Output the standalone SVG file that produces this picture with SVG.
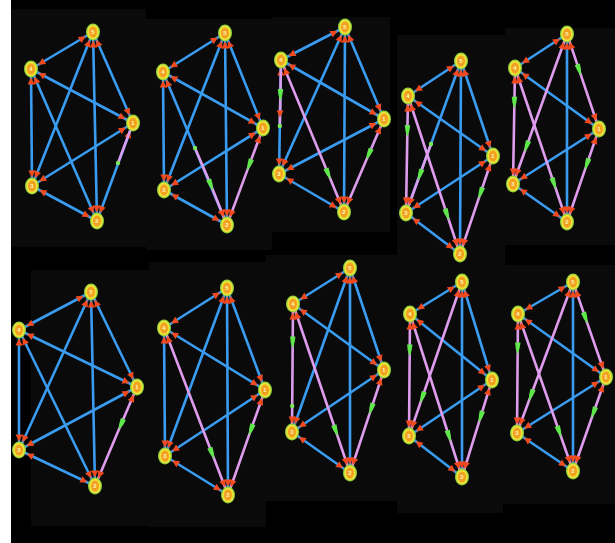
<svg xmlns="http://www.w3.org/2000/svg" xmlns:xlink="http://www.w3.org/1999/xlink" width="615" height="543" viewBox="0 0 615 543">
<style>
.bg{fill:#0a0a0a}
.b{stroke:#3a9cf0;stroke-width:2.6;fill:none;marker-start:url(#ar);marker-end:url(#ar)}
.p{stroke:#de9cec;stroke-width:2.6;fill:none;marker-start:url(#ar);marker-mid:url(#gm);marker-end:url(#ar)}
.po{stroke:#de9cec;stroke-width:2.6;fill:none}
.pm{stroke:#de9cec;stroke-width:2.6;fill:none;marker-mid:url(#gm);marker-end:url(#ar)}
.gd{fill:#7be85a}
.lb{font-family:"Liberation Sans",Arial,sans-serif;font-size:6px;font-weight:bold;fill:#fff6c0;text-anchor:middle;dominant-baseline:central}
</style>
<defs>
<marker id="ar" markerUnits="userSpaceOnUse" markerWidth="7" markerHeight="7" refX="15.5" refY="3.5" orient="auto-start-reverse" overflow="visible"><path d="M0,0 L7,3.5 L0,7 z" fill="#f24a1e"/></marker>
<marker id="gm" markerUnits="userSpaceOnUse" markerWidth="12" markerHeight="6" refX="6" refY="3" orient="auto" overflow="visible"><path d="M0,0.3 Q6,0.5 12,3 Q6,5.5 0,5.7 z" fill="#5ee84a"/></marker>
<g id="nd"><ellipse rx="7" ry="8.5" fill="#8fd13a"/><ellipse rx="5.8" ry="7.3" fill="#ece23c"/><ellipse rx="4" ry="5.6" fill="#f2a11f"/></g>
</defs>
<rect x="0" y="0" width="615" height="543" fill="#ffffff"/>
<rect x="11" y="0" width="604" height="543" fill="#000000"/>
<g id="panels">
<rect class="bg" x="11" y="9" width="135" height="238"/>
<rect class="bg" x="146" y="19" width="126" height="231"/>
<rect class="bg" x="272" y="17" width="118" height="215"/>
<rect class="bg" x="397" y="35" width="108" height="235"/>
<rect class="bg" x="505" y="28" width="110" height="217"/>
<rect class="bg" x="31" y="270" width="118" height="256"/>
<rect class="bg" x="149" y="262" width="117" height="265"/>
<rect class="bg" x="266" y="255" width="131" height="246"/>
<rect class="bg" x="397" y="262" width="106" height="251"/>
<rect class="bg" x="503" y="265" width="112" height="239"/>
</g>

<!-- Panel 1 -->
<g id="panel1">
<g id="p1-connectors">
<line class="b" x1="93" y1="32" x2="31" y2="69"/>
<line class="b" x1="93" y1="32" x2="133" y2="123"/>
<line class="b" x1="93" y1="32" x2="32" y2="186"/>
<line class="b" x1="93" y1="32" x2="97" y2="221"/>
<line class="b" x1="31" y1="69" x2="133" y2="123"/>
<line class="b" x1="31" y1="69" x2="32" y2="186"/>
<line class="b" x1="31" y1="69" x2="97" y2="221"/>
<line class="b" x1="133" y1="123" x2="32" y2="186"/>
<line class="b" x1="133" y1="123" x2="97" y2="221"/>
<line class="b" x1="32" y1="186" x2="97" y2="221"/>
<line class="po" x1="133" y1="123" x2="118" y2="163"/>
<circle class="gd" cx="118" cy="163" r="2.2"/>
</g>
<g id="p1-n5"><use xlink:href="#nd" transform="translate(93,32)"/><text class="lb" x="93" y="32">5</text></g>
<g id="p1-n4"><use xlink:href="#nd" transform="translate(31,69)"/><text class="lb" x="31" y="69">4</text></g>
<g id="p1-n1"><use xlink:href="#nd" transform="translate(133,123)"/><text class="lb" x="133" y="123">1</text></g>
<g id="p1-n3"><use xlink:href="#nd" transform="translate(32,186)"/><text class="lb" x="32" y="186">3</text></g>
<g id="p1-n2"><use xlink:href="#nd" transform="translate(97,221)"/><text class="lb" x="97" y="221">2</text></g>
</g>

<!-- Panel 2 -->
<g id="panel2">
<g id="p2-connectors">
<line class="b" x1="225" y1="33" x2="163" y2="72"/>
<line class="b" x1="225" y1="33" x2="263" y2="128"/>
<line class="b" x1="225" y1="33" x2="164" y2="190"/>
<line class="b" x1="225" y1="33" x2="227" y2="225"/>
<line class="b" x1="163" y1="72" x2="263" y2="128"/>
<line class="b" x1="163" y1="72" x2="164" y2="190"/>
<line class="b" x1="163" y1="72" x2="227" y2="225"/>
<line class="b" x1="263" y1="128" x2="164" y2="190"/>
<line class="b" x1="164" y1="190" x2="227" y2="225"/>
<polyline class="p" points="263,128 249.3,164.9 227,225"/>
<polyline class="pm" points="195,148 210.9,185 227,225"/>
<circle class="gd" cx="195" cy="148" r="2.2"/>
</g>
<g id="p2-n5"><use xlink:href="#nd" transform="translate(225,33)"/><text class="lb" x="225" y="33">5</text></g>
<g id="p2-n4"><use xlink:href="#nd" transform="translate(163,72)"/><text class="lb" x="163" y="72">4</text></g>
<g id="p2-n1"><use xlink:href="#nd" transform="translate(263,128)"/><text class="lb" x="263" y="128">1</text></g>
<g id="p2-n3"><use xlink:href="#nd" transform="translate(164,190)"/><text class="lb" x="164" y="190">3</text></g>
<g id="p2-n2"><use xlink:href="#nd" transform="translate(227,225)"/><text class="lb" x="227" y="225">2</text></g>
</g>

<!-- Panel 3 -->
<g id="panel3">
<g id="p3-connectors">
<line class="b" x1="345" y1="27" x2="281" y2="60"/>
<line class="b" x1="345" y1="27" x2="384" y2="119"/>
<line class="b" x1="345" y1="27" x2="279" y2="174"/>
<line class="b" x1="345" y1="27" x2="344" y2="212"/>
<line class="b" x1="281" y1="60" x2="384" y2="119"/>
<line class="b" x1="281" y1="60" x2="279" y2="174"/>
<line class="b" x1="384" y1="119" x2="279" y2="174"/>
<line class="b" x1="279" y1="174" x2="344" y2="212"/>
<polyline class="pm" points="281,60 280.4,95 279.8,126"/>
<circle class="gd" cx="279.8" cy="126" r="2.2"/>
<polyline class="p" points="281,60 328.3,174 344,212"/>
<polyline class="p" points="384,119 368.8,154.3 344,212"/>
</g>
<g id="p3-n5"><use xlink:href="#nd" transform="translate(345,27)"/><text class="lb" x="345" y="27">5</text></g>
<g id="p3-n4"><use xlink:href="#nd" transform="translate(281,60)"/><text class="lb" x="281" y="60">4</text></g>
<g id="p3-n1"><use xlink:href="#nd" transform="translate(384,119)"/><text class="lb" x="384" y="119">1</text></g>
<g id="p3-n3"><use xlink:href="#nd" transform="translate(279,174)"/><text class="lb" x="279" y="174">3</text></g>
<g id="p3-n2"><use xlink:href="#nd" transform="translate(344,212)"/><text class="lb" x="344" y="212">2</text></g>
</g>

<!-- Panel 4 -->
<g id="panel4">
<g id="p4-connectors">
<line class="b" x1="461" y1="61" x2="408" y2="96"/>
<line class="b" x1="461" y1="61" x2="493" y2="156"/>
<line class="b" x1="461" y1="61" x2="406" y2="213"/>
<line class="b" x1="461" y1="61" x2="460" y2="254"/>
<line class="b" x1="408" y1="96" x2="493" y2="156"/>
<line class="b" x1="493" y1="156" x2="406" y2="213"/>
<line class="b" x1="406" y1="213" x2="460" y2="254"/>
<polyline class="p" points="408,96 407.4,131.1 406,213"/>
<polyline class="pm" points="431,144 419.8,175 406,213"/>
<circle class="gd" cx="431" cy="144" r="2.2"/>
<polyline class="p" points="408,96 447,214.5 460,254"/>
<polyline class="p" points="493,156 480.5,193.2 460,254"/>
</g>
<g id="p4-n5"><use xlink:href="#nd" transform="translate(461,61)"/><text class="lb" x="461" y="61">5</text></g>
<g id="p4-n4"><use xlink:href="#nd" transform="translate(408,96)"/><text class="lb" x="408" y="96">4</text></g>
<g id="p4-n1"><use xlink:href="#nd" transform="translate(493,156)"/><text class="lb" x="493" y="156">1</text></g>
<g id="p4-n3"><use xlink:href="#nd" transform="translate(406,213)"/><text class="lb" x="406" y="213">3</text></g>
<g id="p4-n2"><use xlink:href="#nd" transform="translate(460,254)"/><text class="lb" x="460" y="254">2</text></g>
</g>

<!-- Panel 5 -->
<g id="panel5">
<g id="p5-connectors">
<line class="b" x1="567" y1="34" x2="515" y2="68"/>
<line class="b" x1="567" y1="34" x2="567" y2="222"/>
<line class="b" x1="515" y1="68" x2="599" y2="129"/>
<line class="b" x1="599" y1="129" x2="513" y2="184"/>
<line class="b" x1="513" y1="184" x2="567" y2="222"/>
<polyline class="p" points="567,34 579.2,70.1 599,129"/>
<polyline class="p" points="515,68 514.4,102.8 513,184"/>
<polyline class="p" points="567,34 526.5,146.5 513,184"/>
<polyline class="p" points="515,68 554,183.5 567,222"/>
<polyline class="p" points="599,129 586.8,164.3 567,222"/>
</g>
<g id="p5-n5"><use xlink:href="#nd" transform="translate(567,34)"/><text class="lb" x="567" y="34">5</text></g>
<g id="p5-n4"><use xlink:href="#nd" transform="translate(515,68)"/><text class="lb" x="515" y="68">4</text></g>
<g id="p5-n1"><use xlink:href="#nd" transform="translate(599,129)"/><text class="lb" x="599" y="129">1</text></g>
<g id="p5-n3"><use xlink:href="#nd" transform="translate(513,184)"/><text class="lb" x="513" y="184">3</text></g>
<g id="p5-n2"><use xlink:href="#nd" transform="translate(567,222)"/><text class="lb" x="567" y="222">2</text></g>
</g>

<!-- Panel 6 -->
<g id="panel6">
<g id="p6-connectors">
<line class="b" x1="91" y1="292" x2="19" y2="330"/>
<line class="b" x1="91" y1="292" x2="137" y2="387"/>
<line class="b" x1="91" y1="292" x2="19" y2="450"/>
<line class="b" x1="91" y1="292" x2="95" y2="486"/>
<line class="b" x1="19" y1="330" x2="137" y2="387"/>
<line class="b" x1="19" y1="330" x2="19" y2="450"/>
<line class="b" x1="19" y1="330" x2="95" y2="486"/>
<line class="b" x1="137" y1="387" x2="19" y2="450"/>
<line class="b" x1="19" y1="450" x2="95" y2="486"/>
<polyline class="p" points="137,387 121,424.6 95,486"/>
</g>
<g id="p6-n5"><use xlink:href="#nd" transform="translate(91,292)"/><text class="lb" x="91" y="292">5</text></g>
<g id="p6-n4"><use xlink:href="#nd" transform="translate(19,330)"/><text class="lb" x="19" y="330">4</text></g>
<g id="p6-n1"><use xlink:href="#nd" transform="translate(137,387)"/><text class="lb" x="137" y="387">1</text></g>
<g id="p6-n3"><use xlink:href="#nd" transform="translate(19,450)"/><text class="lb" x="19" y="450">3</text></g>
<g id="p6-n2"><use xlink:href="#nd" transform="translate(95,486)"/><text class="lb" x="95" y="486">2</text></g>
</g>

<!-- Panel 7 -->
<g id="panel7">
<g id="p7-connectors">
<line class="b" x1="227" y1="288" x2="164" y2="328"/>
<line class="b" x1="227" y1="288" x2="265" y2="390"/>
<line class="b" x1="227" y1="288" x2="165" y2="456"/>
<line class="b" x1="227" y1="288" x2="228" y2="495"/>
<line class="b" x1="164" y1="328" x2="265" y2="390"/>
<line class="b" x1="164" y1="328" x2="165" y2="456"/>
<line class="b" x1="265" y1="390" x2="165" y2="456"/>
<line class="b" x1="165" y1="456" x2="228" y2="495"/>
<polyline class="p" points="164,328 212,453.3 228,495"/>
<polyline class="p" points="265,390 250.9,429.9 228,495"/>
</g>
<g id="p7-n5"><use xlink:href="#nd" transform="translate(227,288)"/><text class="lb" x="227" y="288">5</text></g>
<g id="p7-n4"><use xlink:href="#nd" transform="translate(164,328)"/><text class="lb" x="164" y="328">4</text></g>
<g id="p7-n1"><use xlink:href="#nd" transform="translate(265,390)"/><text class="lb" x="265" y="390">1</text></g>
<g id="p7-n3"><use xlink:href="#nd" transform="translate(165,456)"/><text class="lb" x="165" y="456">3</text></g>
<g id="p7-n2"><use xlink:href="#nd" transform="translate(228,495)"/><text class="lb" x="228" y="495">2</text></g>
</g>

<!-- Panel 8 -->
<g id="panel8">
<g id="p8-connectors">
<line class="b" x1="350" y1="268" x2="293" y2="304"/>
<line class="b" x1="350" y1="268" x2="384" y2="370"/>
<line class="b" x1="350" y1="268" x2="292" y2="432"/>
<line class="b" x1="350" y1="268" x2="350" y2="473"/>
<line class="b" x1="293" y1="304" x2="384" y2="370"/>
<line class="b" x1="384" y1="370" x2="292" y2="432"/>
<line class="b" x1="292" y1="432" x2="350" y2="473"/>
<polyline class="p" points="293,304 292.7,342.4 292,432"/>
<circle class="gd" cx="292.2" cy="406" r="2.2"/>
<polyline class="p" points="293,304 335.75,430.75 350,473"/>
<polyline class="p" points="384,370 371.1,409.1 350,473"/>
</g>
<g id="p8-n5"><use xlink:href="#nd" transform="translate(350,268)"/><text class="lb" x="350" y="268">5</text></g>
<g id="p8-n4"><use xlink:href="#nd" transform="translate(293,304)"/><text class="lb" x="293" y="304">4</text></g>
<g id="p8-n1"><use xlink:href="#nd" transform="translate(384,370)"/><text class="lb" x="384" y="370">1</text></g>
<g id="p8-n3"><use xlink:href="#nd" transform="translate(292,432)"/><text class="lb" x="292" y="432">3</text></g>
<g id="p8-n2"><use xlink:href="#nd" transform="translate(350,473)"/><text class="lb" x="350" y="473">2</text></g>
</g>

<!-- Panel 9 -->
<g id="panel9">
<g id="p9-connectors">
<line class="b" x1="462" y1="282" x2="410" y2="314"/>
<line class="b" x1="462" y1="282" x2="492" y2="380"/>
<line class="b" x1="462" y1="282" x2="462" y2="477"/>
<line class="b" x1="410" y1="314" x2="492" y2="380"/>
<line class="b" x1="492" y1="380" x2="409" y2="436"/>
<line class="b" x1="409" y1="436" x2="462" y2="477"/>
<polyline class="p" points="410,314 409.7,350.6 409,436"/>
<polyline class="p" points="462,282 422.25,397.5 409,436"/>
<polyline class="p" points="410,314 449,436.25 462,477"/>
<polyline class="p" points="492,380 480.6,416.9 462,477"/>
</g>
<g id="p9-n5"><use xlink:href="#nd" transform="translate(462,282)"/><text class="lb" x="462" y="282">5</text></g>
<g id="p9-n4"><use xlink:href="#nd" transform="translate(410,314)"/><text class="lb" x="410" y="314">4</text></g>
<g id="p9-n1"><use xlink:href="#nd" transform="translate(492,380)"/><text class="lb" x="492" y="380">1</text></g>
<g id="p9-n3"><use xlink:href="#nd" transform="translate(409,436)"/><text class="lb" x="409" y="436">3</text></g>
<g id="p9-n2"><use xlink:href="#nd" transform="translate(462,477)"/><text class="lb" x="462" y="477">2</text></g>
</g>

<!-- Panel 10 -->
<g id="panel10">
<g id="p10-connectors">
<line class="b" x1="573" y1="282" x2="518" y2="314"/>
<line class="b" x1="573" y1="282" x2="573" y2="471"/>
<line class="b" x1="518" y1="314" x2="606" y2="377"/>
<line class="b" x1="606" y1="377" x2="517" y2="433"/>
<line class="b" x1="517" y1="433" x2="573" y2="471"/>
<polyline class="p" points="573,282 585.5,318.1 606,377"/>
<polyline class="p" points="518,314 517.7,348.5 517,433"/>
<polyline class="p" points="573,282 531,395.25 517,433"/>
<polyline class="p" points="518,314 559.25,431.75 573,471"/>
<polyline class="p" points="606,377 593.5,412.7 573,471"/>
</g>
<g id="p10-n5"><use xlink:href="#nd" transform="translate(573,282)"/><text class="lb" x="573" y="282">5</text></g>
<g id="p10-n4"><use xlink:href="#nd" transform="translate(518,314)"/><text class="lb" x="518" y="314">4</text></g>
<g id="p10-n1"><use xlink:href="#nd" transform="translate(606,377)"/><text class="lb" x="606" y="377">1</text></g>
<g id="p10-n3"><use xlink:href="#nd" transform="translate(517,433)"/><text class="lb" x="517" y="433">3</text></g>
<g id="p10-n2"><use xlink:href="#nd" transform="translate(573,471)"/><text class="lb" x="573" y="471">2</text></g>
</g>
</svg>
